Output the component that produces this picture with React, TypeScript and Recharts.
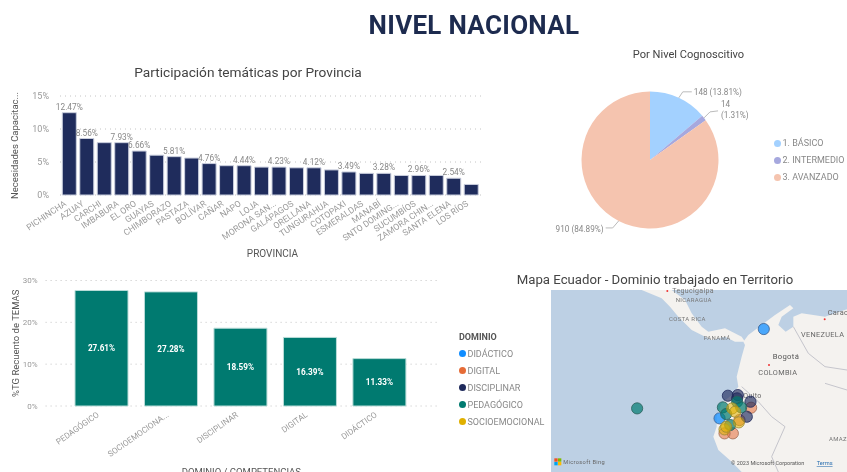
import React from "react";
import {
  BarChart, Bar, XAxis, YAxis, CartesianGrid, LabelList, Label, PieChart, Pie, Cell, Legend,
  ScatterChart, Scatter,
} from "recharts";

const FONT = "Roboto, 'Noto Sans', sans-serif";

const provinces = ["PICHINCHA","AZUAY","CARCHI","IMBABURA","EL ORO","GUAYAS","CHIMBORAZO","PASTAZA","BOLÍVAR","CAÑAR","NAPO","LOJA","MORONA SAN...","GALÁPAGOS","ORELLANA","TUNGURAHUA","COTOPAXI","ESMERALDAS","MANABÍ","SNTO DOMING...","SUCUMBÍOS","ZAMORA CHIN...","SANTA ELENA","LOS RÍOS"];
const provinceValues = [12.47,8.56,7.93,7.93,6.66,6.03,5.81,5.6,4.76,4.44,4.44,4.23,4.23,4.12,4.12,3.8,3.49,3.28,3.28,2.96,2.96,2.96,2.54,1.6];
const provinceLabelled = [0,1,3,4,6,8,10,12,14,16,18,20,22];
const provinceData = provinces.map((name, i) => ({
  name, value: provinceValues[i], shown: provinceLabelled.includes(i) ? provinceValues[i] : null,
}));

const levels = ["1. BÁSICO","2. INTERMEDIO","3. AVANZADO"];
const levelValues = [148,14,910];
const levelPercents = ["13.81%","1.31%","84.89%"];
const levelColors = ["#A3D1FF","#A6A8DE","#F5C4AF"];
const levelData = levels.map((name, i) => ({ name, value: levelValues[i] }));

const domains = ["PEDAGÓGICO","SOCIOEMOCIONA...","DISCIPLINAR","DIGITAL","DIDÁCTICO"];
const domainValues = [27.61,27.28,18.59,16.39,11.33];
const domainData = domains.map((name, i) => ({ name, value: domainValues[i] }));

const didactico = [{ lon: -74.9, lat: 11.13 },{ lon: -82.82, lat: -4.82 }];
const digital = [{ lon: -77.17, lat: -2.92 },{ lon: -80.44, lat: -7.5 },{ lon: -81.93, lat: -7.5 },{ lon: -79.25, lat: -5.12 }];
const disciplinar = [{ lon: -81.33, lat: -0.78 },{ lon: -79.55, lat: -0.66 },{ lon: -77.28, lat: -1.85 },{ lon: -77.94, lat: -4.53 },{ lon: -79.67, lat: -1.25 }];
const pedagogico = [{ lon: -97.58, lat: -3.04 },{ lon: -82.22, lat: -2.86 },{ lon: -79.67, lat: -1.85 },{ lon: -78.95, lat: -2.86 },{ lon: -81.63, lat: -4.05 },{ lon: -80.92, lat: -6.01 }];
const socio = [{ lon: -80.56, lat: -3.04 },{ lon: -80.02, lat: -3.63 },{ lon: -79.37, lat: -5.54 },{ lon: -81.93, lat: -6.79 },{ lon: -81.63, lat: -6.31 }];

const landSouth = "595,215 610,195 650,165 690,135 735,105 745,115 710,140 700,165 722,185 745,170 745,140 770,130 840,140 906,118 906,606 590,606 560,575 520,540 505,500 515,470 515,440 530,400 560,375 580,350 575,320 590,260 600,225";
const landCentral = "290,60 380,60 420,90 440,130 470,170 490,185 540,175 590,200 600,215 570,215 540,200 500,210 470,195 440,180 400,140 375,110 350,85";
const borders = ["640,395 680,440 720,470 680,560 700,606","745,170 790,250 840,290 906,300","590,350 640,395","840,340 906,360"];
const mapLabels = [
  { t: "Bogotá", x: 683, y: 268, c: "#555", s: 23 },
  { t: "COLOMBIA", x: 640, y: 315, c: "#666", s: 22 },
  { t: "VENEZUELA", x: 768, y: 202, c: "#666", s: 22 },
  { t: "COSTA RICA", x: 372, y: 154, c: "#777", s: 18 },
  { t: "PANAMÁ", x: 476, y: 211, c: "#777", s: 18 },
  { t: "NICARAGUA", x: 392, y: 96, c: "#777", s: 18 },
  { t: "Tegucigalpa", x: 382, y: 70, c: "#777", s: 21 },
  { t: "Quito", x: 595, y: 384, c: "#666", s: 21 },
  { t: "Carac", x: 848, y: 134, c: "#666", s: 22 },
  { t: "AMAZ", x: 852, y: 514, c: "#777", s: 18 },
  { t: "Microsoft Bing", x: 55, y: 581, c: "#666", s: 17 },
];

const Tick = ({ x, y, payload, size, angle, dx }: any) => (
  <text x={x + dx} y={y + 2} textAnchor="end" fontSize={size} fontFamily={FONT} fill="#999"
    transform={`rotate(${angle} ${x + dx} ${y + 2})`}>{payload.value}</text>
);

const Bubble = ({ cx, cy, fill, stroke, fillOpacity }: any) => (
  <circle cx={cx} cy={cy} r={5.6} fill={fill} stroke={stroke} fillOpacity={fillOpacity} strokeWidth={0.8} />
);

const pieOffsets = [
  { bend: [4, -6], end: [13, -6], tx: 15, ty: -3, anchor: "start" },
  { bend: [6, -6], end: [14, -7], tx: 17, ty: -11, anchor: "start" },
  { bend: [-6, 7], end: [-13, 7], tx: -15, ty: 11, anchor: "end" },
];

const PieLabel = ({ cx, cy, midAngle, outerRadius, index }: any) => {
  const a = (midAngle * Math.PI) / 180;
  const px = cx + outerRadius * Math.cos(a);
  const py = cy - outerRadius * Math.sin(a);
  const o = pieOffsets[index];
  const common = { fontSize: 8.2, fontFamily: FONT, fill: "#888", textAnchor: o.anchor as any };
  return (
    <g>
      <polyline points={`${px},${py} ${px + o.bend[0]},${py + o.bend[1]} ${px + o.end[0]},${py + o.end[1]}`} fill="none" stroke="#bbb" />
      {index === 1 ? (
        <text {...common} x={px + o.tx} y={py + o.ty}>
          <tspan x={px + o.tx}>{levelValues[index]}</tspan>
          <tspan x={px + o.tx} dy={11}>({levelPercents[index]})</tspan>
        </text>
      ) : (
        <text {...common} x={px + o.tx} y={py + o.ty}>{levelValues[index]} ({levelPercents[index]})</text>
      )}
    </g>
  );
};

const DotLegend = ({ payload, gap, title }: any) => (
  <div style={{ fontFamily: FONT, fontSize: 9, color: "#888" }}>
    {title && <div style={{ fontWeight: 700, color: "#555", height: 15, lineHeight: "15px", fontSize: 9 }}>{title}</div>}
    {(payload || []).map((p: any) => (
      <div key={p.value} style={{ display: "flex", alignItems: "center", height: gap, whiteSpace: "nowrap" }}>
        <span style={{ width: 7, height: 7, borderRadius: 4, background: p.color, marginRight: 1.5, display: "inline-block" }} />
        {p.value}
      </div>
    ))}
  </div>
);

const titleStyle = (x: number, y: number, w: number, size: number): React.CSSProperties => ({
  position: "absolute", left: x, top: y, width: w, textAlign: "center", fontSize: size,
  fontFamily: FONT, color: "#444", whiteSpace: "nowrap", lineHeight: "18px",
});

export default function App() {
  return (
    <div style={{ position: "absolute", left: 0, top: 0, width: 847, height: 472, overflow: "hidden", background: "#fff", filter: "blur(0.5px)" }}>
      <div style={{ ...titleStyle(274, 9, 400, 26), color: "#1d2b4f", fontWeight: 700, lineHeight: "32px", letterSpacing: 0.3 }}>NIVEL NACIONAL</div>
      <div style={titleStyle(98, 63, 300, 13.7)}>Participación temáticas por Provincia</div>
      <div style={titleStyle(588.5, 46, 200, 11.1)}>Por Nivel Cognoscitivo</div>
      <div style={titleStyle(505, 271, 300, 13.2)}>Mapa Ecuador - Dominio trabajado en Territorio</div>

      <div style={{ position: "absolute", left: 0, top: 60 }}>
        <BarChart width={500} height={200} data={provinceData} margin={{ top: 36, right: 15, bottom: 0, left: 0 }} barSize={14}>
          <CartesianGrid vertical={false} strokeDasharray="1 4" stroke="#c4c4c4" />
          <XAxis dataKey="name" interval={0} height={65} axisLine={false} tickLine={false} padding={{ left: 0.3, right: 5.3 }}
            tick={<Tick size={8.7} angle={-34} dx={-2} />}>
            <Label value="PROVINCIA" position="insideBottom" offset={3} fontSize={10} fontFamily={FONT} fill="#555" />
          </XAxis>
          <YAxis width={60} domain={[0, 15]} ticks={[0, 5, 10, 15]} tickFormatter={(v: number) => `${v}%`} axisLine={false} tickLine={false}
            tick={{ fontSize: 9, fontFamily: FONT, fill: "#999" }} tickMargin={5}>
            <Label value="Necesidades Capacitac..." angle={-90} position="center" dx={-15} fontSize={9.5} fontFamily={FONT} fill="#555" />
          </YAxis>
          <Bar dataKey="value" fill="#1F2C5C" stroke="#c9cedd" strokeWidth={1} isAnimationActive={false}>
            <LabelList dataKey="shown" position="top" offset={3} formatter={(v: any) => (v == null ? "" : `${v.toFixed(2)}%`)}
              fontSize={8.3} fontFamily={FONT} fill="#888" />
          </Bar>
        </BarChart>
      </div>

      <div style={{ position: "absolute", left: 540, top: 40 }}>
        <PieChart width={307} height={210} margin={{ top: 0, right: 0, bottom: 0, left: 0 }}>
          <Pie data={levelData} dataKey="value" nameKey="name" cx={110} cy={120} outerRadius={68.5} startAngle={90} endAngle={-270}
            stroke="none" isAnimationActive={false} label={PieLabel} labelLine={false}>
            {levelData.map((d, i) => <Cell key={d.name} fill={levelColors[i]} />)}
          </Pie>
          <Legend layout="vertical" align="center" verticalAlign="middle" width={75}
            wrapperStyle={{ left: 234, top: 94.5, width: 75 }}
            content={(p: any) => <DotLegend payload={p.payload} gap={17} />} />
        </PieChart>
      </div>

      <div style={{ position: "absolute", left: 0, top: 270 }}>
        <BarChart width={460} height={202} data={domainData} margin={{ top: 10.5, right: 23, bottom: 0, left: 0 }} barSize={53}>
          <CartesianGrid vertical={false} strokeDasharray="1 4" stroke="#c4c4c4" />
          <XAxis dataKey="name" interval={0} height={66} axisLine={false} tickLine={false} padding={{ left: 21.4, right: 22.6 }}
            tick={<Tick size={8.2} angle={-35} dx={-2} />}>
            <Label value="DOMINIO / COMPETENCIAS" position="insideBottom" offset={-3} fontSize={9.5} fontFamily={FONT} fill="#555" />
          </XAxis>
          <YAxis width={45.6} domain={[0, 30]} ticks={[0, 10, 20, 30]} tickFormatter={(v: number) => `${v}%`} axisLine={false} tickLine={false}
            tick={{ fontSize: 8, fontFamily: FONT, fill: "#999" }} tickMargin={2}>
            <Label value="%TG Recuento de TEMAS" angle={-90} position="center" dx={-7} fontSize={9.5} fontFamily={FONT} fill="#555" />
          </YAxis>
          <Bar dataKey="value" fill="#007A70" stroke="#b9dcd8" strokeWidth={1} isAnimationActive={false}>
            <LabelList dataKey="value" position="center" formatter={(v: any) => `${v.toFixed(2)}%`}
              fontSize={8.2} fontWeight={700} fontFamily={FONT} fill="#fff" />
          </Bar>
        </BarChart>
      </div>

      <svg style={{ position: "absolute", left: 545, top: 270 }} width={302} height={202} viewBox="0 0 906 606">
        <rect x={18} y={60} width={888} height={546} fill="#BDD0E4" />
        <polygon points={landSouth} fill="#F4F2EF" />
        <polygon points={landCentral} fill="#F4F2EF" />
        {borders.map((b) => <polyline key={b} points={b} fill="none" stroke="#c5c5cc" strokeWidth={3} />)}
        <circle cx={672} cy={285} r={3} fill="#e33" />
        <circle cx={367} cy={63} r={3} fill="#e33" />
        <circle cx={839} cy={148} r={3} fill="#e33" />
        {mapLabels.map((l) => (
          <text key={l.t} x={l.x} y={l.y} fontSize={l.s} fontFamily={FONT} fill={l.c} letterSpacing={1}>{l.t}</text>
        ))}
        <rect x={28} y={565} width={10} height={10} fill="#F25022" />
        <rect x={39} y={565} width={10} height={10} fill="#7FBA00" />
        <rect x={28} y={576} width={10} height={10} fill="#00A4EF" />
        <rect x={39} y={576} width={10} height={10} fill="#FFB900" />
        <text x={558} y={585} fontSize={16.5} fontFamily={FONT} fill="#555">© 2023 Microsoft Corporation</text>
        <text x={815} y={585} fontSize={17} fontFamily={FONT} fill="#2a6fb0" textDecoration="underline">Terms</text>
      </svg>

      <div style={{ position: "absolute", left: 455, top: 290 }}>
        <ScatterChart width={392} height={182} margin={{ top: 0, right: 0, bottom: 0, left: 96 }}>
          <XAxis type="number" dataKey="lon" domain={[-113, -60]} hide />
          <YAxis type="number" dataKey="lat" domain={[-14.4, 18.1]} hide />
          <Scatter name="DIDÁCTICO" data={didactico} fill="#118DFF" fillOpacity={0.75} stroke="#3a5f90" shape={Bubble} isAnimationActive={false} />
          <Scatter name="DIGITAL" data={digital} fill="#E66C37" fillOpacity={0.55} stroke="#a06a50" shape={Bubble} isAnimationActive={false} />
          <Scatter name="DISCIPLINAR" data={disciplinar} fill="#1F2A5C" fillOpacity={0.65} stroke="#1F2A5C" shape={Bubble} isAnimationActive={false} />
          <Scatter name="PEDAGÓGICO" data={pedagogico} fill="#007A70" fillOpacity={0.7} stroke="#2a5f5a" shape={Bubble} isAnimationActive={false} />
          <Scatter name="SOCIOEMOCIONAL" data={socio} fill="#E0B000" fillOpacity={0.55} stroke="#9a8a30" shape={Bubble} isAnimationActive={false} />
          <Legend layout="vertical" align="center" verticalAlign="middle" width={95}
            wrapperStyle={{ left: 4, top: 40, width: 95 }}
            content={(p: any) => <DotLegend payload={p.payload} gap={17} title="DOMINIO" />} />
        </ScatterChart>
      </div>
    </div>
  );
}
